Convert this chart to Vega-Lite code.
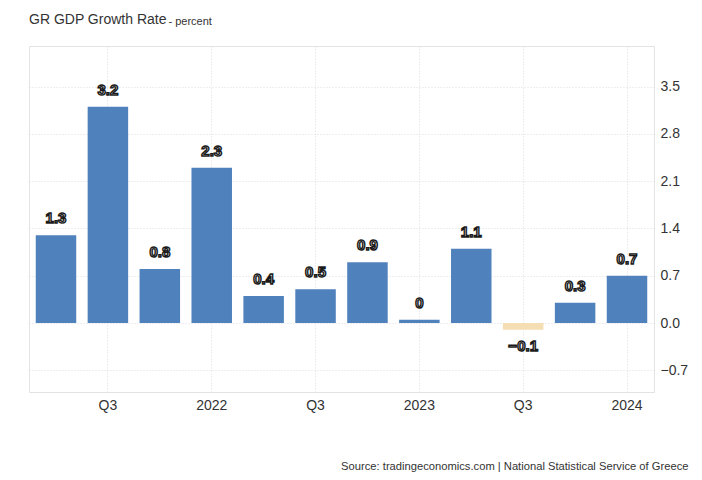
{
  "$schema": "https://vega.github.io/schema/vega-lite/v6.json",
  "width": 625,
  "height": 346,
  "autosize": {"type": "none"},
  "padding": {"left": 29, "top": 46, "right": 48, "bottom": 88},
  "background": "white",
  "title": {
    "text": "GR GDP Growth Rate",
    "anchor": "start",
    "frame": "group",
    "font": "Liberation Sans",
    "fontSize": 14,
    "fontWeight": "normal",
    "color": "#333333",
    "offset": -12
  },
  "data": {
    "values": [
      {"period": "2021Q2", "value": 1.3, "label": "1.3"},
      {"period": "2021Q3", "value": 3.2, "label": "3.2"},
      {"period": "2021Q4", "value": 0.8, "label": "0.8"},
      {"period": "2022Q1", "value": 2.3, "label": "2.3"},
      {"period": "2022Q2", "value": 0.4, "label": "0.4"},
      {"period": "2022Q3", "value": 0.5, "label": "0.5"},
      {"period": "2022Q4", "value": 0.9, "label": "0.9"},
      {"period": "2023Q1", "value": 0.05, "label": "0"},
      {"period": "2023Q2", "value": 1.1, "label": "1.1"},
      {"period": "2023Q3", "value": -0.1, "label": "\u22120.1"},
      {"period": "2023Q4", "value": 0.3, "label": "0.3"},
      {"period": "2024Q1", "value": 0.7, "label": "0.7"}
    ]
  },
  "encoding": {
    "x": {
      "field": "period",
      "type": "ordinal",
      "sort": null,
      "scale": {"paddingInner": 0.22, "paddingOuter": 0.13},
      "axis": {
        "orient": "bottom",
        "values": ["2021Q3", "2022Q1", "2022Q3", "2023Q1", "2023Q3", "2024Q1"],
        "labelExpr": "indexof(datum.value, 'Q1') > 0 ? slice(datum.value, 0, 4) : 'Q3'",
        "labelAngle": 0,
        "labelFont": "Liberation Sans",
        "labelFontSize": 14,
        "labelColor": "#333333",
        "labelPadding": 6,
        "ticks": false,
        "tickSize": 0,
        "domain": false,
        "grid": true,
        "gridColor": "#dddddd",
        "gridDash": [1, 2],
        "title": "Source: tradingeconomics.com | National Statistical Service of Greece",
        "titleFont": "Liberation Sans",
        "titleFontSize": 11.2,
        "titleFontWeight": "normal",
        "titleColor": "#333333",
        "titleAnchor": "end",
        "titleAlign": "right",
        "titleBaseline": "middle",
        "titleX": 659,
        "titleY": 74
      }
    }
  },
  "layer": [
    {
      "mark": {"type": "bar"},
      "encoding": {
        "y": {
          "field": "value",
          "type": "quantitative",
          "scale": {"domain": [-1.02, 4.1], "nice": false, "zero": true},
          "axis": {
            "orient": "right",
            "values": [-0.7, 0, 0.7, 1.4, 2.1, 2.8, 3.5],
            "format": ".1f",
            "labelFont": "Liberation Sans",
            "labelFontSize": 14,
            "labelColor": "#333333",
            "labelPadding": 6,
            "ticks": false,
            "tickSize": 0,
            "domain": false,
            "grid": true,
            "gridColor": "#dddddd",
            "gridDash": [1, 2],
            "title": "- percent",
            "titleFont": "Liberation Sans",
            "titleFontSize": 11,
            "titleFontWeight": "normal",
            "titleColor": "#333333",
            "titleAngle": 0,
            "titleAlign": "left",
            "titleBaseline": "alphabetic",
            "titleX": -486,
            "titleY": -22
          }
        },
        "color": {
          "condition": {"test": "datum.value < 0", "value": "#f5deb3"},
          "value": "#4f81bd"
        }
      }
    },
    {
      "transform": [{"filter": "datum.value >= 0"}],
      "mark": {
        "type": "text",
        "font": "Liberation Sans",
        "fontSize": 15,
        "fontWeight": "bold",
        "fill": "#eeeeee",
        "stroke": "#1a1a1a",
        "strokeWidth": 1.4,
        "baseline": "middle",
        "dy": -17
      },
      "encoding": {
        "y": {"field": "value", "type": "quantitative"},
        "text": {"field": "label"}
      }
    },
    {
      "transform": [{"filter": "datum.value < 0"}],
      "mark": {
        "type": "text",
        "font": "Liberation Sans",
        "fontSize": 15,
        "fontWeight": "bold",
        "fill": "#eeeeee",
        "stroke": "#1a1a1a",
        "strokeWidth": 1.4,
        "baseline": "middle",
        "dy": 16
      },
      "encoding": {
        "y": {"field": "value", "type": "quantitative"},
        "text": {"field": "label"}
      }
    }
  ],
  "config": {
    "view": {"stroke": "#e3e3e3"}
  }
}
